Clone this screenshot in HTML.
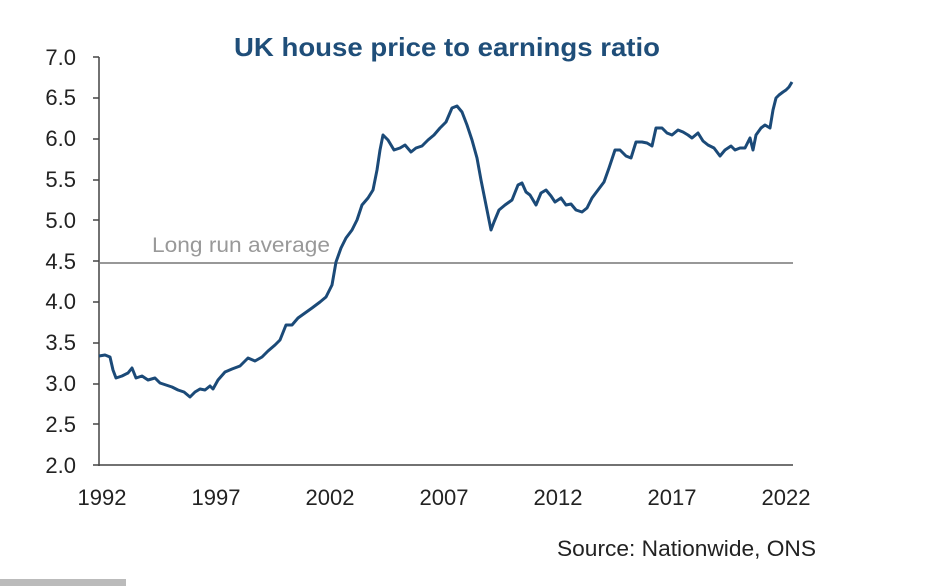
<!DOCTYPE html>
<html><head><meta charset="utf-8"><style>
body{margin:0;background:#fff;}
svg{display:block;font-family:"Liberation Sans",sans-serif;}
</style></head><body>
<svg width="935" height="586" viewBox="0 0 935 586">
<text x="234" y="56" font-size="26" font-weight="bold" fill="#1f4e79" textLength="426" lengthAdjust="spacingAndGlyphs">UK house price to earnings ratio</text>
<g font-size="22" fill="#222" text-anchor="end">
<text x="76" y="473">2.0</text><text x="76" y="432">2.5</text><text x="76" y="391">3.0</text>
<text x="76" y="350">3.5</text><text x="76" y="309">4.0</text><text x="76" y="269">4.5</text>
<text x="76" y="228">5.0</text><text x="76" y="187">5.5</text><text x="76" y="146">6.0</text>
<text x="76" y="105">6.5</text><text x="76" y="65">7.0</text>
</g>
<g stroke="#444" stroke-width="1.5">
<line x1="99" y1="57" x2="99" y2="466"/>
<line x1="93" y1="465" x2="793" y2="465"/>
<line x1="93" y1="57" x2="99" y2="57"/><line x1="93" y1="98" x2="99" y2="98"/>
<line x1="93" y1="139" x2="99" y2="139"/><line x1="93" y1="180" x2="99" y2="180"/>
<line x1="93" y1="220" x2="99" y2="220"/><line x1="93" y1="261" x2="99" y2="261"/>
<line x1="93" y1="302" x2="99" y2="302"/><line x1="93" y1="343" x2="99" y2="343"/>
<line x1="93" y1="384" x2="99" y2="384"/><line x1="93" y1="424" x2="99" y2="424"/>
</g>
<g font-size="22" fill="#222" text-anchor="middle">
<text x="102" y="505">1992</text><text x="216" y="505">1997</text><text x="330" y="505">2002</text>
<text x="444" y="505">2007</text><text x="558" y="505">2012</text><text x="672" y="505">2017</text>
<text x="786" y="505">2022</text>
</g>
<line x1="99" y1="263" x2="793" y2="263" stroke="#777" stroke-width="1.5"/>
<text x="152" y="252" font-size="21" fill="#999" textLength="178" lengthAdjust="spacingAndGlyphs">Long run average</text>
<polyline fill="none" stroke="#1b4a78" stroke-width="3" stroke-linejoin="round" points="99,356 105,355 110,357 113,370 116,378 122,376 128,373 132,368 136,378 142,376 148,380 155,378 160,383 166,385 172,387 178,390 184,392 190,397 195,392 200,389 205,390 210,386 213,389 218,380 225,372 232,369 240,366 248,358 255,361 262,357 268,351 275,345 280,340 286,325 292,325 298,318 305,313 312,308 320,302 326,297 332,285 336,262 341,248 346,238 352,230 357,220 362,205 368,198 373,190 377,170 380,150 383,135 388,140 394,150 400,148 405,145 411,152 416,148 422,146 428,140 434,135 440,128 446,122 452,108 457,106 462,112 467,125 472,140 477,158 481,180 484,195 488,215 491,230 494,222 499,210 505,205 512,200 518,185 522,183 526,192 530,195 536,205 541,193 546,190 551,196 555,202 561,198 566,205 571,204 576,210 582,212 587,208 592,198 598,190 604,182 609,168 615,150 620,150 626,156 631,158 636,142 642,142 647,143 652,146 656,128 662,128 667,133 672,135 678,130 683,132 688,135 692,138 698,133 703,141 708,145 714,148 720,156 725,150 731,146 735,150 740,148 745,148 750,138 753,150 756,135 761,128 765,125 770,128 773,110 776,98 779,95 783,92 786,90 789,87 792,82"/>
<text x="557" y="556" font-size="22" fill="#222" textLength="259" lengthAdjust="spacingAndGlyphs">Source: Nationwide, ONS</text>
<rect x="0" y="579" width="126" height="7" fill="#bbb"/>
</svg>
</body></html>
